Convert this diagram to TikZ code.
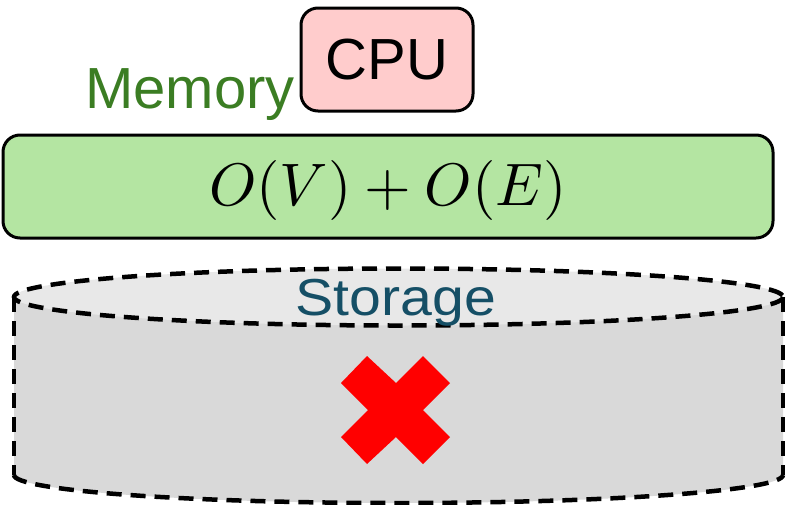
\documentclass[tikz,border=0pt]{standalone}
\usepackage[no-math]{fontspec}
\setmainfont{Liberation Sans}
\usepackage{graphicx}
\usepackage{tikz}
\usetikzlibrary{calc}
\definecolor{cpured}{RGB}{255,204,204}
\definecolor{memgreen}{RGB}{180,229,162}
\definecolor{memtext}{RGB}{59,125,35}
\definecolor{storetext}{RGB}{21,79,102}
\definecolor{disktop}{RGB}{232,232,232}
\definecolor{diskside}{RGB}{217,217,217}

\begin{document}
\begin{tikzpicture}[x=1pt,y=-1pt,
        box/.style={draw,line width=3pt,rounded corners=17pt,inner sep=0pt},
        diskline/.style={line width=4.5pt,dash pattern=on 15pt off 9pt},
        big/.style={font=\fontsize{58}{60}\selectfont}]
        \useasboundingbox (0,0) rectangle (794,504);

        \coordinate (TL) at (14,297);
        \coordinate (TR) at (783,297);
        \coordinate (BL) at (14,475);
        \coordinate (BR) at (783,475);
        \coordinate (T) at ($(TL)!0.5!(TR)$);

        % Zylinder
        \fill[diskside] (TL) -- (BL) arc[start angle=180,end angle=0,x radius=384.5,y radius=28] -- (TR) -- cycle;
        \filldraw[fill=disktop,diskline] (T) ellipse[x radius=384.5,y radius=28.5];
        \draw[diskline] (TL) -- (BL);
        \draw[diskline] (TR) -- (BR);
        \draw[diskline] (BL) arc[start angle=180,end angle=0,x radius=384.5,y radius=28];

        % rotes Kreuz
        \fill[red] (367,356) -- (396,383) -- (423,356) -- (450,383) -- (423,410) -- (450,437)
            -- (423,464) -- (396,437) -- (367,464) -- (341,437) -- (368,410) -- (341,383) -- cycle;

        \node[font=\fontsize{52}{54}\selectfont,text=storetext,anchor=base,inner sep=0pt,xscale=1.1] (storage) at (396,315) {Storage};

        \node[box,fill=cpured,big,minimum width=172pt,minimum height=103pt] (cpu) at (387,59.5) {CPU};
        \node[big,text=memtext,anchor=base east,inner sep=0pt] (memory) at (295,108) {Memory};

        \node[box,fill=memgreen,minimum width=770pt,minimum height=103pt,
            text height=45pt,text depth=7pt] (mem) at (388,186.5) {\scalebox{6}{$O(V)+O(E)$}};
    \end{tikzpicture}
\end{document}
